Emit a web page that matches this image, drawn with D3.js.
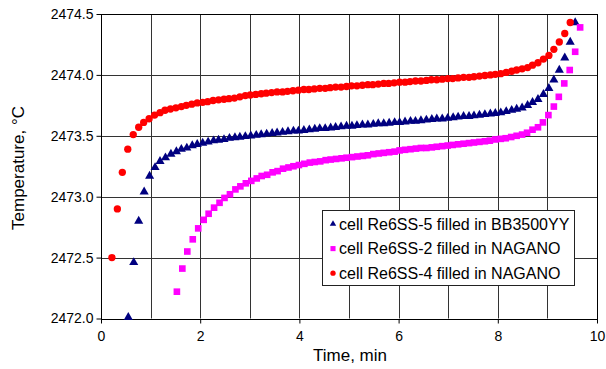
<!DOCTYPE html>
<html><head><meta charset="utf-8">
<script src="https://cdn.jsdelivr.net/npm/d3@7/dist/d3.min.js"></script>
<style>body{margin:0;background:#fff}svg{display:block}text{font-family:"Liberation Sans",Arial,sans-serif;fill:#000}</style>
</head><body><svg id="c" width="606" height="369"></svg>
<script>
const xTicks = [0, 2, 4, 6, 8, 10];
const yTicks = [2472.0, 2472.5, 2473.0, 2473.5, 2474.0, 2474.5];
const seriesNames = ["cell Re6SS-5 filled in BB3500YY", "cell Re6SS-2 filled in NAGANO", "cell Re6SS-4 filled in NAGANO"];

const blueT = [0.55,0.66,0.76,0.87,0.98,1.09,1.19,1.30,1.41,1.52,1.62,1.73,1.84,1.94,2.05,2.16,2.27,2.37,2.48,2.59,2.70,2.80,2.91,3.02,3.13,3.23,3.34,3.45,3.55,3.66,3.77,3.88,3.98,4.09,4.20,4.31,4.41,4.52,4.63,4.73,4.84,4.95,5.06,5.16,5.27,5.38,5.49,5.59,5.70,5.81,5.92,6.02,6.13,6.24,6.34,6.45,6.56,6.67,6.77,6.88,6.99,7.10,7.20,7.31,7.42,7.52,7.63,7.74,7.85,7.95,8.06,8.17,8.28,8.38,8.49,8.60,8.70,8.81,8.92,9.03,9.13,9.24,9.35,9.46,9.56];
const blueV = [2472.01,2472.46,2472.80,2473.04,2473.17,2473.24,2473.29,2473.32,2473.35,2473.37,2473.39,2473.40,2473.42,2473.43,2473.44,2473.45,2473.46,2473.465,2473.47,2473.48,2473.485,2473.49,2473.495,2473.50,2473.505,2473.51,2473.515,2473.52,2473.525,2473.53,2473.535,2473.54,2473.54,2473.545,2473.55,2473.555,2473.56,2473.56,2473.565,2473.57,2473.575,2473.58,2473.58,2473.585,2473.59,2473.59,2473.595,2473.60,2473.60,2473.605,2473.61,2473.61,2473.615,2473.62,2473.62,2473.625,2473.63,2473.635,2473.64,2473.64,2473.645,2473.65,2473.655,2473.66,2473.66,2473.665,2473.67,2473.675,2473.68,2473.685,2473.69,2473.70,2473.71,2473.72,2473.73,2473.75,2473.775,2473.80,2473.84,2473.89,2473.96,2474.04,2474.14,2474.27,2474.43];

const pinkT = [1.53,1.64,1.74,1.85,1.96,2.07,2.17,2.28,2.39,2.49,2.60,2.71,2.81,2.92,3.03,3.14,3.24,3.35,3.46,3.56,3.67,3.78,3.88,3.99,4.10,4.21,4.31,4.42,4.53,4.63,4.74,4.85,4.95,5.06,5.17,5.28,5.38,5.49,5.60,5.70,5.81,5.92,6.02,6.13,6.24,6.35,6.45,6.56,6.67,6.77,6.88,6.99,7.09,7.20,7.31,7.42,7.52,7.63,7.74,7.84,7.95,8.06,8.16,8.27,8.38,8.49,8.59,8.70,8.81,8.91,9.02,9.13,9.23,9.34,9.45,9.56,9.66];
const pinkV = [2472.22,2472.41,2472.55,2472.65,2472.74,2472.81,2472.86,2472.91,2472.95,2472.99,2473.02,2473.06,2473.085,2473.11,2473.13,2473.15,2473.17,2473.18,2473.20,2473.21,2473.23,2473.24,2473.25,2473.26,2473.27,2473.28,2473.285,2473.29,2473.30,2473.305,2473.31,2473.315,2473.32,2473.325,2473.33,2473.335,2473.34,2473.35,2473.355,2473.36,2473.365,2473.37,2473.38,2473.385,2473.39,2473.395,2473.40,2473.40,2473.405,2473.41,2473.415,2473.42,2473.425,2473.43,2473.435,2473.44,2473.445,2473.45,2473.455,2473.46,2473.47,2473.475,2473.48,2473.49,2473.50,2473.51,2473.525,2473.55,2473.57,2473.61,2473.67,2473.74,2473.82,2473.93,2474.04,2474.19,2474.39];

const redT = [0.22,0.33,0.43,0.54,0.65,0.76,0.86,0.97,1.08,1.19,1.29,1.40,1.51,1.62,1.72,1.83,1.94,2.05,2.15,2.26,2.37,2.48,2.58,2.69,2.80,2.91,3.01,3.12,3.23,3.33,3.44,3.55,3.66,3.76,3.87,3.98,4.09,4.19,4.30,4.41,4.52,4.62,4.73,4.84,4.95,5.05,5.16,5.27,5.38,5.48,5.59,5.70,5.80,5.91,6.02,6.13,6.23,6.34,6.45,6.56,6.66,6.77,6.88,6.99,7.09,7.20,7.31,7.42,7.52,7.63,7.74,7.85,7.95,8.06,8.17,8.28,8.38,8.49,8.60,8.70,8.81,8.92,9.03,9.13,9.24,9.35,9.46];
const redV = [2472.50,2472.90,2473.20,2473.39,2473.51,2473.57,2473.61,2473.64,2473.67,2473.69,2473.71,2473.72,2473.73,2473.74,2473.75,2473.76,2473.77,2473.775,2473.78,2473.79,2473.795,2473.80,2473.805,2473.81,2473.82,2473.83,2473.835,2473.84,2473.845,2473.85,2473.855,2473.86,2473.86,2473.865,2473.87,2473.875,2473.88,2473.88,2473.885,2473.89,2473.89,2473.895,2473.90,2473.90,2473.905,2473.91,2473.91,2473.915,2473.92,2473.92,2473.925,2473.93,2473.93,2473.935,2473.94,2473.94,2473.945,2473.95,2473.95,2473.955,2473.96,2473.96,2473.965,2473.97,2473.97,2473.975,2473.98,2473.98,2473.985,2473.99,2473.995,2474.00,2474.005,2474.01,2474.02,2474.03,2474.04,2474.05,2474.06,2474.08,2474.10,2474.13,2474.16,2474.21,2474.27,2474.34,2474.43];

const svg = d3.select("#c");
const x = d3.scaleLinear().domain([0, 10]).range([101, 597]);
const y = d3.scaleLinear().domain([2472, 2474.5]).range([318.5, 14]);

// gridlines
const g = svg.append("g");
g.selectAll("line.v").data(d3.range(1, 10)).enter().append("line")
  .attr("x1", d => Math.round(x(d)) + 0.5).attr("x2", d => Math.round(x(d)) + 0.5)
  .attr("y1", y(2474.5)).attr("y2", y(2472)).attr("stroke", "#333").attr("stroke-width", 1);
g.selectAll("line.h").data(yTicks.slice(1, -1)).enter().append("line")
  .attr("x1", x(0)).attr("x2", x(10))
  .attr("y1", d => Math.round(y(d)) + 0.5).attr("y2", d => Math.round(y(d)) + 0.5)
  .attr("stroke", "#333").attr("stroke-width", 1);
// frame
svg.append("rect").attr("x", Math.round(x(0)) + 0.5).attr("y", Math.round(y(2474.5)) + 0.5)
  .attr("width", Math.round(x(10)) - Math.round(x(0))).attr("height", Math.round(y(2472)) - Math.round(y(2474.5)))
  .attr("fill", "none").attr("stroke", "#000").attr("stroke-width", 1);

// axes
const xAxis = d3.axisBottom(x).tickValues(xTicks).tickFormat(d3.format("d")).tickSize(4).tickPadding(8);
const yAxis = d3.axisLeft(y).tickValues(yTicks).tickFormat(d3.format(".1f")).tickSize(5).tickPadding(3);
const gx = svg.append("g").attr("transform", `translate(0,${Math.round(y(2472)) + 0.5})`).call(xAxis);
const gy = svg.append("g").attr("transform", `translate(${Math.round(x(0)) + 0.5},0)`).call(yAxis);
[gx, gy].forEach(a => {
  a.select(".domain").remove();
  a.selectAll("text").style("font-size", "14px").attr("fill", "#000");
  a.selectAll("line").attr("stroke", "#000");
});

// axis titles
svg.append("text").attr("x", 350).attr("y", 361).attr("text-anchor", "middle")
  .style("font-size", "17px").text("Time, min");
const yt = svg.append("text").attr("transform", "translate(24,168) rotate(-90)").attr("text-anchor", "middle")
  .style("font-size", "17px");
yt.append("tspan").text("Temperature, ");
yt.append("tspan").text("°C");

// markers
const colors = ["#000080", "#FF00FF", "#FF0000"];
const shapes = [d3.symbolTriangle, d3.symbolSquare, d3.symbolCircle];
const sizes = [36, 44, 42];
const series = [
  blueT.map((t, i) => [t, blueV[i]]),
  pinkT.map((t, i) => [t, pinkV[i]]),
  redT.map((t, i) => [t, redV[i]])
];
series.forEach((s, k) => {
  svg.append("g").selectAll("path").data(s).enter().append("path")
    .attr("d", d3.symbol().type(shapes[k]).size(sizes[k]))
    .attr("transform", d => `translate(${x(d[0])},${y(d[1])})`)
    .attr("fill", colors[k]);
});

// legend
const lg = svg.append("g");
lg.append("rect").attr("x", 322.5).attr("y", 210.5).attr("width", 252).attr("height", 75)
  .attr("fill", "#fff").attr("stroke", "#222").attr("stroke-width", 1);
const legendSizes = [18, 26, 22];
seriesNames.forEach((n, k) => {
  const cy = 224 + k * 24.6;
  lg.append("path").attr("d", d3.symbol().type(shapes[k]).size(legendSizes[k]))
    .attr("transform", `translate(333,${cy})`).attr("fill", colors[k]);
  lg.append("text").attr("x", 339).attr("y", cy).attr("dy", "0.36em")
    .style("font-size", "16px").text(n);
});
</script>
</body></html>
